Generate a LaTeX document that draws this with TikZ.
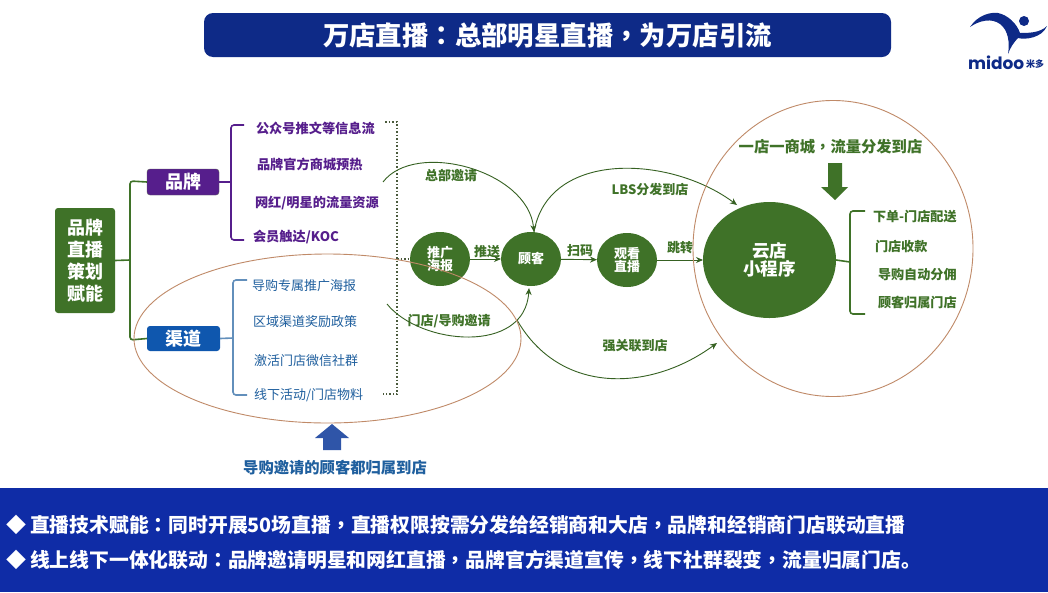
\documentclass[tikz,border=0pt]{standalone}
\usepackage{fontspec}
\setmainfont{Noto Sans CJK SC}
\newfontfamily\logofont{Poppins}
\newfontfamily\punctfont{Noto Sans CJK TC}
\usepackage{tikz}
\usetikzlibrary{shapes.geometric, arrows.meta}
\definecolor{navy}{HTML}{0E2A87}
\definecolor{band}{HTML}{0F2CA6}
\definecolor{leaf}{HTML}{3F7228}
\definecolor{grape}{HTML}{561E8C}
\definecolor{sea}{HTML}{0F57AE}
\definecolor{ink}{HTML}{1F5F9E}
\definecolor{rust}{HTML}{C08A68}
\definecolor{dots}{HTML}{4A5A3C}
\definecolor{upblue}{HTML}{2F55A8}
\newcommand{\px}[1]{\fontsize{#1}{#1}\selectfont}
\newcommand{\pn}[1]{{\punctfont #1}}

\begin{document}
\begin{tikzpicture}[x=1pt, y=-1pt, node distance=0 cm, outer sep = 0pt]

\tikzstyle{box}=[rectangle, rounded corners=3pt, text=white, font=\px{18}\bfseries, align=center]
\tikzstyle{ball}=[ellipse, fill=leaf, text=white, minimum width=60pt, minimum height=54pt, inner sep=0pt, font=\px{13}\bfseries, align=center]
\tikzstyle{grapetext}=[anchor=west, inner sep=0pt, text=grape, font=\px{13.2}\bfseries]
\tikzstyle{inktext}=[anchor=west, inner sep=0pt, text=ink, font=\px{13}]
\tikzstyle{leaftext}=[anchor=west, inner sep=0pt, text=leaf, font=\px{13.1}\bfseries]
\tikzstyle{edgetext}=[inner sep=0pt, text=leaf, font=\px{13}\bfseries]
\tikzstyle{bandtext}=[anchor=west, inner sep=0pt, text=white, font=\px{19.8}\bfseries]
\tikzstyle{flow}=[draw=leaf!85!black, line width=0.9pt, -{Stealth[length=7pt,width=6pt]}]
\tikzstyle{bracket}=[draw, line width=1.6pt, rounded corners=3pt]
\tikzstyle{loop}=[draw=rust, line width=0.9pt]
\tikzstyle{dotline}=[dots, line width=1.3pt, dash pattern=on 1.5pt off 2pt]

\useasboundingbox (0,0) rectangle (1048,592);
\fill[white] (0,0) rectangle (1048,592);

\node[box, fill=navy, minimum width=687pt, minimum height=44pt, rounded corners=9pt, font=\px{26.4}\bfseries] (title) at (547.5,35) {万店直播\pn{：}总部明星直播\pn{，}为万店引流};

% logo
\fill[navy] (970,27) .. controls (978,15) and (990,12) .. (998,13) .. controls (1008,15) and (1017,24) .. (1020,33) .. controls (1028,33) and (1040,33) .. (1047,26) .. controls (1042,38) and (1025,40) .. (1018,38) .. controls (1014,42) and (1010,48) .. (1008,54) .. controls (1010,42) and (1008,30) .. (1000,24) .. controls (992,18) and (980,20) .. (970,27);
\fill[navy] (1024,21) circle (5);
\node[inner sep=0pt, anchor=west, text=navy, font=\logofont\px{17}\bfseries] (logoname) at (968,63) {midoo};
\node[inner sep=0pt, anchor=west, text=navy, font=\px{9}\bfseries] (logocn) at (1026,64) {米多};

\node[box, fill=leaf, minimum width=60pt, minimum height=105pt] (root) at (85,260.5) {品牌\\[4pt]直播\\[4pt]策划\\[4pt]赋能};
\node[box, fill=grape, draw=gray!70!black, minimum width=72pt, minimum height=26pt] (brand) at (183,182) {品牌};
\node[box, fill=sea, minimum width=73pt, minimum height=25pt] (channel) at (183.5,338.5) {渠道};

\node[grapetext] (b1) at (256,128) {公众号推文等信息流};
\node[grapetext] (b2) at (257,164) {品牌官方商城预热};
\node[grapetext] (b3) at (255,203) {网红/明星的流量资源};
\node[grapetext] (b4) at (253,237) {会员触达/KOC};

\node[inktext] (c1) at (252,286) {导购专属推广海报};
\node[inktext] (c2) at (253,322) {区域渠道奖励政策};
\node[inktext] (c3) at (254,361) {激活门店微信社群};
\node[inktext] (c4) at (254,395) {线下活动/门店物料};

\node[ball] (poster) at (440,259) {推广\\海报};
\node[ball] (guest) at (531,259) {顾客};
\node[ball] (watch) at (627,260) {观看\\直播};
\node[ball, minimum width=133pt, minimum height=116pt, font=\px{17.5}\bfseries] (cloud) at (769.5,260) {云店\\小程序};

\node[leaftext] (r1) at (873,217) {下单-门店配送};
\node[leaftext] (r2) at (875,246) {门店收款};
\node[leaftext] (r3) at (878,275) {导购自动分佣};
\node[leaftext] (r4) at (878,303) {顾客归属门店};

\node[edgetext] (l1) at (451,176) {总部邀请};
\node[edgetext] (l2) at (487,252) {推送};
\node[edgetext] (l3) at (580,251) {扫码};
\node[edgetext] (l4) at (680,248) {跳转};
\node[edgetext] (l5) at (650,190) {LBS分发到店};
\node[edgetext] (l6) at (449,321) {门店/导购邀请};
\node[edgetext] (l7) at (635,346) {强关联到店};
\node[edgetext, font=\px{15.3}\bfseries] (slogan) at (830.5,147) {一店一商城\pn{，}流量分发到店};
\node[inner sep=0pt, text=ink, font=\px{15.3}\bfseries] (caption) at (335,468) {导购邀请的顾客都归属到店};

% brackets
\coordinate (rootjoin) at (130,260);
\draw[bracket, draw=leaf] (brand.west) -- (130,181) -- (130,340) -- (channel.west);
\draw[bracket, draw=leaf] (root.east) -- (rootjoin);
\draw[bracket, draw=grape] (244,125) -- (231,125) -- (231,240) -- (244,240);
\draw[bracket, draw=grape] (brand.east) -- (231,182);
\draw[bracket, draw=ink!70!white] (247,280) -- (233,280) -- (233,395) -- (247,395);
\draw[bracket, draw=ink!70!white] (channel.east) -- (233,338);
\draw[bracket, draw=leaf] (865,211) -- (850,211) -- (850,314) -- (865,314);
\draw[bracket, draw=leaf] (cloud.east) -- (850,262);

% dotted frame
\draw[dotline] (385,122) -- (397,122) -- (397,394) -- (383,394);
\draw[dotline] (397,259) -- (poster.west);

% links
\draw[flow] (poster) -- (guest);
\draw[flow] (guest) -- (watch);
\draw[flow] (watch) -- (cloud);

\coordinate (s1) at (383,182); \coordinate (s2) at (387,304); \coordinate (s3) at (517,320);
\coordinate (topguest) at (534,232); \coordinate (lowguest) at (529,288);
\coordinate (e1) at (737,205); \coordinate (e2) at (717,343);
\draw[flow] (s1) .. controls (415,140) and (528,170) .. (topguest);
\draw[flow] (topguest) .. controls (548,150) and (670,155) .. (e1);
\draw[flow] (s2) .. controls (420,345) and (525,355) .. (lowguest);
\draw[flow] (s3) .. controls (560,395) and (650,392) .. (e2);

\draw[loop] (327.5,338.5) ellipse (193.5 and 84.5);
\draw[loop] (833,248.5) ellipse (140 and 148);

% block arrows
\fill[leaf] (828,163) -- (842,163) -- (842,187) -- (848,187) -- (835,200) -- (821,187) -- (828,187) -- cycle;
\fill[upblue] (323,450) -- (341,450) -- (341,438) -- (349,438) -- (332,424) -- (315,438) -- (323,438) -- cycle;

\fill[band] (0,488) rectangle (1048,592);
\node[bandtext, font=\px{20}\bfseries] (mark1) at (6,525) {◆};
\node[bandtext] (line1) at (30,525) {直播技术赋能\pn{：}同时开展50场直播\pn{，}直播权限按需分发给经销商和大店\pn{，}品牌和经销商门店联动直播};
\node[bandtext, font=\px{20}\bfseries] (mark2) at (6,560) {◆};
\node[bandtext] (line2) at (30,560) {线上线下一体化联动\pn{：}品牌邀请明星和网红直播\pn{，}品牌官方渠道宣传\pn{，}线下社群裂变\pn{，}流量归属门店。};
\end{tikzpicture}
\end{document}
